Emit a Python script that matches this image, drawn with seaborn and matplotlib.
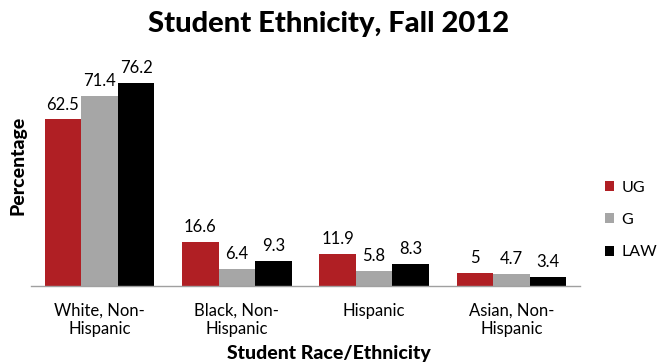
import matplotlib
matplotlib.use("Agg")
import matplotlib.pyplot as plt
import seaborn as sns
import pandas as pd

categories = ["White, Non-\nHispanic", "Black, Non-\nHispanic", "Hispanic", "Asian, Non-\nHispanic"]
series_names = ["UG", "G", "LAW"]
ug = [62.5, 16.6, 11.9, 5]
g = [71.4, 6.4, 5.8, 4.7]
law = [76.2, 9.3, 8.3, 3.4]
colors = ["#B01F24", "#A6A6A6", "#000000"]

rows = []
for name, vals in zip(series_names, [ug, g, law]):
    for c, v in zip(categories, vals):
        rows.append({"cat": c, "series": name, "value": v})
df = pd.DataFrame(rows)

sns.set_theme(style="white")
plt.rcParams['font.family'] = ['Lato', 'DejaVu Sans']
plt.rcParams['text.color'] = 'black'
plt.rcParams['xtick.color'] = 'black'
plt.rcParams['axes.labelcolor'] = 'black'

fig = plt.figure(figsize=(6.57, 3.64), dpi=100)
ax = fig.add_axes([0.047, 0.214, 0.836, 0.586])
sns.barplot(data=df, x="cat", y="value", hue="series", palette=colors,
            width=0.8, saturation=1, ax=ax, legend=True, linewidth=0)
for cont in ax.containers:
    ax.bar_label(cont, fmt='%g', padding=5, fontsize=12, color="black")

ax.set_ylim(0, 80)
ax.set_xlim(-0.5, 3.5)
ax.set_yticks([])
ax.set_ylabel("")
ax.set_xlabel("")
ax.tick_params(axis='x', labelsize=12, length=0, pad=12, labelcolor="black")
for s in ["top", "right", "left"]:
    ax.spines[s].set_visible(False)
ax.spines["bottom"].set_color("#A0A0A0")
ax.spines["bottom"].set_linewidth(1)

fig.text(0.5, 0.935, "Student Ethnicity, Fall 2012", ha="center", va="center",
         fontsize=21, fontweight="black", color="black")
fig.text(0.5, 0.03, "Student Race/Ethnicity", ha="center", va="center",
         fontsize=14, fontweight="black", color="black")
fig.text(0.027, 0.545, "Percentage", ha="center", va="center", rotation=90,
         fontsize=14, fontweight="black", color="black")

leg = ax.legend(loc="center left", bbox_to_anchor=(1.045, 0.31), frameon=False,
                handlelength=0.6, handleheight=0.6, handletextpad=0.45,
                labelspacing=1.15, fontsize=11.5, borderpad=0, borderaxespad=0)
for t in leg.get_texts():
    t.set_color("black")

fig.savefig("out.png", dpi=100)
